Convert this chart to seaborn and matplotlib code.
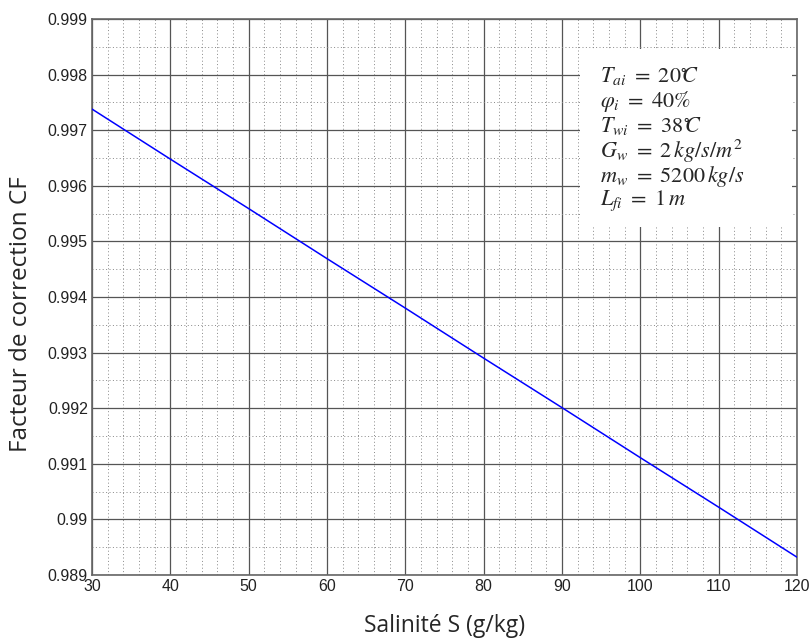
import matplotlib
matplotlib.use("Agg")
import matplotlib.pyplot as plt
import matplotlib.patches as mpatches
from matplotlib.ticker import MultipleLocator, FixedLocator, FixedFormatter
import pandas as pd
import seaborn as sns

# Correction factor CF versus salinity S
salinity = [30, 40, 50, 60, 70, 80, 90, 100, 110, 120]
correction_factor = [0.99738, 0.99648, 0.99559, 0.99469, 0.99380,
                     0.99290, 0.99201, 0.99111, 0.99022, 0.98932]

x_ticks = [30, 40, 50, 60, 70, 80, 90, 100, 110, 120]
y_ticks = [0.989, 0.990, 0.991, 0.992, 0.993, 0.994, 0.995, 0.996, 0.997, 0.998, 0.999]
y_tick_labels = ["0.989", "0.99", "0.991", "0.992", "0.993", "0.994",
                 "0.995", "0.996", "0.997", "0.998", "0.999"]

conditions = [
    r"$T_{ai}\ =\ 20^{\circ}\!\!C$",
    r"$\varphi_i\ =\ 40\%$",
    r"$T_{wi}\ =\ 38^{\circ}\!\!C$",
    r"$G_w\ =\ 2\,kg/s/m^2$",
    r"$m_w\ =\ 5200\,kg/s$",
    r"$L_{fi}\ =\ 1\,m$",
]

sns.set_style("white")
plt.rcParams["font.family"] = ["Liberation Sans", "DejaVu Sans"]
plt.rcParams["mathtext.fontset"] = "stix"

df = pd.DataFrame({"S": salinity, "CF": correction_factor})

fig = plt.figure(figsize=(8.1, 6.38), dpi=100)
ax = fig.add_axes([92 / 810, 63 / 638, 705 / 810, 556 / 638])

sns.lineplot(data=df, x="S", y="CF", ax=ax, color="#0000ff", linewidth=1.1, zorder=5)

ax.set_xlim(30, 120)
ax.set_ylim(0.989, 0.999)
ax.xaxis.set_major_locator(FixedLocator(x_ticks))
ax.xaxis.set_minor_locator(MultipleLocator(2))
ax.yaxis.set_major_locator(FixedLocator(y_ticks))
ax.yaxis.set_major_formatter(FixedFormatter(y_tick_labels))
ax.yaxis.set_minor_locator(MultipleLocator(0.0005))

ax.grid(True, which="major", color="#555555", linewidth=0.9, linestyle="-")
ax.grid(True, which="minor", color="#888888", linewidth=0.7, linestyle=(0, (1, 2.5)))
ax.set_axisbelow(True)

ax.tick_params(axis="both", which="both", length=0, labelsize=11.5, colors="#222222", pad=3)
for spine in ax.spines.values():
    spine.set_color("#666666")
    spine.set_linewidth(1.2)

label_font = ["Open Sans", "DejaVu Sans"]
ax.set_xlabel("Salinité S (g/kg)", fontsize=16.5, family=label_font, labelpad=14)
ax.set_ylabel("Facteur de correction CF", fontsize=17.5, family=label_font)
ax.yaxis.set_label_coords(-0.084, 0.469)

# White panel holding the operating conditions
panel = mpatches.Rectangle((0.692, 0.626), 0.301, 0.32, transform=ax.transAxes,
                           facecolor="white", edgecolor="none", zorder=3)
ax.add_patch(panel)
for i, line in enumerate(conditions):
    ax.text(0.72, 0.8975 - i * 0.045, line, transform=ax.transAxes,
            fontsize=16, va="center", ha="left", zorder=6)

fig.savefig("out.png", dpi=100)
